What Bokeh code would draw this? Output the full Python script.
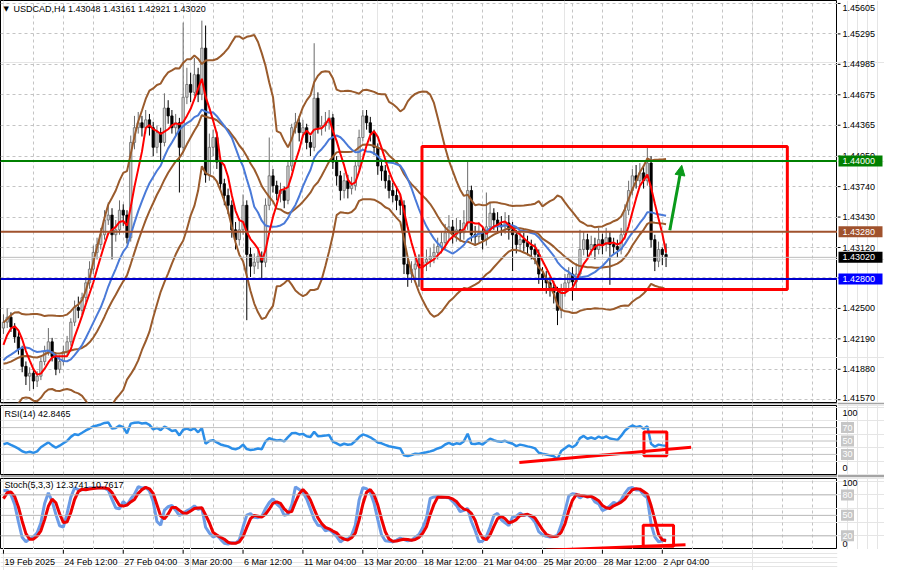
import numpy as np
import pandas as pd
from bokeh.plotting import figure
from bokeh.layouts import column, row
from bokeh.models import (Range1d, FixedTicker, Label, Grid, Arrow, NormalHead, Span)
from bokeh.embed import file_html
from bokeh.resources import INLINE
from bokeh.core.properties import value

# ---------------- data (USDCAD H4) ----------------
title_text = "USDCAD,H4 1.43048 1.43161 1.42921 1.43020"
rsi_title = "RSI(14) 42.8465"
stoch_title = "Stoch(5,3,3) 12.3741 10.7617"

# bars before the first visible bar (warm-up for indicators)
prior_close = [1.4240, 1.4225, 1.4205, 1.4180, 1.4170, 1.4160, 1.4175, 1.4190, 1.4200, 1.4185,
               1.4170, 1.4165, 1.4180, 1.4195, 1.4210, 1.4200, 1.4190, 1.4198, 1.4210, 1.4230]
prior_high = [1.4248, 1.4244, 1.4230, 1.4210, 1.4186, 1.4176, 1.4182, 1.4196, 1.4207, 1.4204,
              1.4190, 1.4176, 1.4186, 1.4201, 1.4216, 1.4214, 1.4205, 1.4204, 1.4216, 1.4236]
prior_low = [1.4230, 1.4220, 1.4200, 1.4174, 1.4163, 1.4154, 1.4156, 1.4170, 1.4184, 1.4180,
             1.4165, 1.4160, 1.4160, 1.4175, 1.4190, 1.4194, 1.4184, 1.4186, 1.4192, 1.4205]

close = [1.4236, 1.4241, 1.4231, 1.4221, 1.4209, 1.4191, 1.4181, 1.4184, 1.4176, 1.4181,
         1.4196, 1.4206, 1.4216, 1.4201, 1.4188, 1.4196, 1.4206, 1.4216, 1.4236, 1.4251,
         1.4248, 1.4261, 1.4276, 1.4290, 1.4307, 1.4315, 1.4325, 1.4340, 1.4345, 1.4325,
         1.4330, 1.4350, 1.4345, 1.4322, 1.4419, 1.4434, 1.4439, 1.4434, 1.4442, 1.4434,
         1.4414, 1.4429, 1.4419, 1.4454, 1.4446, 1.4434, 1.4439, 1.4414, 1.4465, 1.4478,
         1.4470, 1.4488, 1.4468, 1.4515, 1.4386, 1.4414, 1.4424, 1.4399, 1.4377, 1.4365,
         1.4355, 1.4330, 1.4320, 1.4330, 1.4355, 1.4305, 1.4293, 1.4297, 1.4303, 1.4297,
         1.4355, 1.4385, 1.4375, 1.4367, 1.4370, 1.4360, 1.4395, 1.4434, 1.4439, 1.4429,
         1.4434, 1.4419, 1.4414, 1.4464, 1.4434, 1.4436, 1.4439, 1.4444, 1.4399, 1.4385,
         1.4370, 1.4380, 1.4372, 1.4375, 1.4395, 1.4424, 1.4446, 1.4439, 1.4429, 1.4414,
         1.4395, 1.4390, 1.4380, 1.4370, 1.4365, 1.4360, 1.4355, 1.4295, 1.4285, 1.4290,
         1.4295, 1.4293, 1.4297, 1.4300, 1.4303, 1.4307, 1.4313, 1.4317, 1.4327, 1.4333,
         1.4325, 1.4330, 1.4327, 1.4337, 1.4370, 1.4325, 1.4323, 1.4327, 1.4320, 1.4333,
         1.4347, 1.4340, 1.4335, 1.4333, 1.4337, 1.4330, 1.4325, 1.4315, 1.4320, 1.4317,
         1.4313, 1.4310, 1.4305, 1.4285, 1.4280, 1.4276, 1.4271, 1.4266, 1.4248, 1.4268,
         1.4276, 1.4285, 1.4277, 1.4285, 1.4310, 1.4320, 1.4310, 1.4315, 1.4310, 1.4320,
         1.4315, 1.4322, 1.4315, 1.4313, 1.4310, 1.4325, 1.4350, 1.4370, 1.4385, 1.4380,
         1.4388, 1.4380, 1.4398, 1.4320, 1.4298, 1.4310, 1.43048, 1.43020]

high = [1.4244, 1.4250, 1.4246, 1.4235, 1.4226, 1.4212, 1.4196, 1.4190, 1.4189, 1.4186,
        1.4200, 1.4212, 1.4230, 1.4220, 1.4205, 1.4202, 1.4212, 1.4222, 1.4240, 1.4258,
        1.4262, 1.4266, 1.4282, 1.4298, 1.4314, 1.4322, 1.4332, 1.4350, 1.4358, 1.4352,
        1.4340, 1.4360, 1.4356, 1.4350, 1.4426, 1.4446, 1.4450, 1.4446, 1.4452, 1.4448,
        1.4440, 1.4436, 1.4434, 1.4469, 1.4462, 1.4452, 1.4448, 1.4444, 1.4541, 1.4495,
        1.4490, 1.4505, 1.4495, 1.4543, 1.4538, 1.4428, 1.4432, 1.4430, 1.4404, 1.4382,
        1.4372, 1.4360, 1.4338, 1.4342, 1.4366, 1.4360, 1.4312, 1.4306, 1.4312, 1.4308,
        1.4362, 1.4424, 1.4392, 1.4380, 1.4378, 1.4374, 1.4400, 1.4438, 1.4449, 1.4446,
        1.4442, 1.4438, 1.4426, 1.4520, 1.4470, 1.4446, 1.4450, 1.4452, 1.4448, 1.4405,
        1.4390, 1.4388, 1.4386, 1.4384, 1.4400, 1.4432, 1.4452, 1.4452, 1.4445, 1.4432,
        1.4418, 1.4402, 1.4396, 1.4386, 1.4378, 1.4372, 1.4366, 1.4360, 1.4300, 1.4298,
        1.4304, 1.4305, 1.4306, 1.4310, 1.4312, 1.4316, 1.4322, 1.4328, 1.4336, 1.4345,
        1.4340, 1.4342, 1.4340, 1.4350, 1.4400, 1.4375, 1.4334, 1.4338, 1.4334, 1.4368,
        1.4358, 1.4352, 1.4348, 1.4344, 1.4348, 1.4345, 1.4338, 1.4330, 1.4328, 1.4327,
        1.4324, 1.4320, 1.4316, 1.4310, 1.4292, 1.4288, 1.4282, 1.4278, 1.4272, 1.4275,
        1.4285, 1.4292, 1.4292, 1.4296, 1.4330, 1.4328, 1.4326, 1.4324, 1.4322, 1.4332,
        1.4326, 1.4332, 1.4328, 1.4322, 1.4320, 1.4332, 1.4356, 1.4380, 1.4392, 1.4396,
        1.4398, 1.4396, 1.4414, 1.4405, 1.4325, 1.4318, 1.4312, 1.43161]

low = [1.4224, 1.4230, 1.4226, 1.4215, 1.4203, 1.4185, 1.4172, 1.4166, 1.4168, 1.4170,
       1.4177, 1.4192, 1.4202, 1.4196, 1.4182, 1.4184, 1.4192, 1.4202, 1.4212, 1.4232,
       1.4240, 1.4243, 1.4256, 1.4270, 1.4285, 1.4300, 1.4310, 1.4320, 1.4335, 1.4300,
       1.4318, 1.4325, 1.4334, 1.4316, 1.4318, 1.4412, 1.4428, 1.4425, 1.4428, 1.4426,
       1.4405, 1.4408, 1.4400, 1.4415, 1.4438, 1.4428, 1.4425, 1.4368, 1.4408, 1.4458,
       1.4460, 1.4466, 1.4460, 1.4462, 1.4378, 1.4380, 1.4405, 1.4392, 1.4370, 1.4355,
       1.4346, 1.4322, 1.4310, 1.4314, 1.4325, 1.4238, 1.4282, 1.4285, 1.4290, 1.4280,
       1.4292, 1.4350, 1.4368, 1.4360, 1.4358, 1.4352, 1.4356, 1.4390, 1.4428, 1.4420,
       1.4424, 1.4412, 1.4405, 1.4410, 1.4428, 1.4426, 1.4430, 1.4432, 1.4392, 1.4375,
       1.4360, 1.4362, 1.4362, 1.4366, 1.4370, 1.4390, 1.4420, 1.4432, 1.4420, 1.4406,
       1.4386, 1.4380, 1.4372, 1.4362, 1.4358, 1.4350, 1.4345, 1.4285, 1.4272, 1.4276,
       1.4280, 1.4272, 1.4285, 1.4288, 1.4292, 1.4296, 1.4300, 1.4306, 1.4310, 1.4320,
       1.4316, 1.4318, 1.4318, 1.4320, 1.4330, 1.4318, 1.4314, 1.4316, 1.4310, 1.4314,
       1.4328, 1.4330, 1.4326, 1.4324, 1.4326, 1.4320, 1.4288, 1.4306, 1.4308, 1.4308,
       1.4304, 1.4300, 1.4295, 1.4275, 1.4270, 1.4265, 1.4262, 1.4255, 1.4233, 1.4240,
       1.4262, 1.4270, 1.4258, 1.4270, 1.4280, 1.4304, 1.4300, 1.4304, 1.4300, 1.4305,
       1.4305, 1.4308, 1.4274, 1.4305, 1.4302, 1.4305, 1.4320, 1.4345, 1.4365, 1.4372,
       1.4374, 1.4372, 1.4375, 1.4312, 1.4288, 1.4292, 1.4294, 1.42921]

# axis tick values / labels
price_ticks = [1.45605, 1.45295, 1.44985, 1.44675, 1.44365, 1.44050, 1.43740, 1.43430,
               1.43120, 1.42810, 1.42500, 1.42190, 1.41880, 1.41570]
date_labels = ["19 Feb 2025", "24 Feb 12:00", "27 Feb 04:00", "3 Mar 20:00", "6 Mar 12:00",
               "11 Mar 04:00", "13 Mar 20:00", "18 Mar 12:00", "21 Mar 04:00", "25 Mar 20:00",
               "28 Mar 12:00", "2 Apr 04:00"]
date_label_bars = [0, 16, 32, 48, 64, 80, 96, 112, 128, 144, 160, 176]
grid_bars = list(range(8, 224, 8))
rsi_levels = [70, 50, 30]
stoch_levels = [80, 50, 20]

# horizontal levels drawn on the chart: (price, colour)
levels = [(1.44000, "#008000"), (1.43280, "#a0522d"), (1.42800, "#0000cc")]
level_tags = [(1.44000, "#008000"), (1.43280, "#a0522d"), (1.43020, "#000000"), (1.42800, "#0000ff")]
last_price = 1.43020

# user drawings (bar index, value)
box_main = dict(left=111.8, right=209.4, bottom=1.42692, top=1.44148)
arrow_main = dict(x0=178.0, y0=1.43296, x1=181.2, y1=1.43957)
rsi_line = dict(x=[137.8, 183.7], y=[17.9, 40.7])
rsi_box = dict(left=171.1, right=177.2, bottom=27.9, top=63.6)
stoch_line = dict(x=[144.9, 182.2], y=[-1.0, 7.1])
stoch_box = dict(left=170.9, right=179.0, bottom=4.7, top=35.7)

# ---------------- indicators ----------------
P = len(prior_close)
c_all = pd.Series(prior_close + close)
h_all = pd.Series(prior_high + high)
l_all = pd.Series(prior_low + low)
opens = np.array([prior_close[-1]] + close[:-1])

mid = c_all.rolling(20).mean()
sd = c_all.rolling(20).std(ddof=0)
bb_up = (mid + 2 * sd).values[P:]
bb_dn = (mid - 2 * sd).values[P:]
bb_mid = mid.values[P:]
ma_fast = c_all.rolling(5).mean().values[P:]
ma_slow = c_all.rolling(14).mean().values[P:]

d = c_all.diff()
ag = d.clip(lower=0).ewm(alpha=1 / 14, adjust=False).mean()
al = (-d.clip(upper=0)).ewm(alpha=1 / 14, adjust=False).mean()
rsi = (100 - 100 / (1 + ag / al)).values[P:]

hh = h_all.rolling(5).max()
ll = l_all.rolling(5).min()
k_line = ((c_all - ll).rolling(3).sum() / (hh - ll).rolling(3).sum() * 100)
d_line = k_line.rolling(3).mean()
k_line = k_line.values[P:]
d_line = d_line.values[P:]

# ---------------- layout ----------------
FW = 837          # plot-area width
SW = 47           # price-scale width
FONT = "Liberation Sans"
FS = "9px"
BROWN = "#9a5b2c"
SEP = "#a4a4a4"
xr = Range1d(-0.79, 222.8)
idx = np.arange(len(close))
c = np.array(close); o = opens; h = np.array(high); l = np.array(low)


def panel(hgt, yr, top=0, bottom=0):
    p = figure(width=FW, height=hgt, x_range=xr, y_range=yr, output_backend="svg",
               toolbar_location=None, x_axis_location=None, y_axis_location=None,
               min_border_left=0, min_border_right=0, min_border_top=top,
               min_border_bottom=bottom)
    p.outline_line_color = "black"
    p.outline_line_width = 1
    p.background_fill_color = "white"
    p.border_fill_color = SEP
    p.add_layout(Grid(dimension=0, ticker=FixedTicker(ticks=grid_bars),
                      grid_line_color="#c4c4c4", grid_line_dash="3 3"))
    return p


def scale(hgt, yr, top=0, bottom=0):
    s = figure(width=SW, height=hgt, x_range=Range1d(0, SW), y_range=yr, output_backend="svg",
               toolbar_location=None, x_axis_location=None, y_axis_location=None,
               min_border_left=0, min_border_right=0, min_border_top=top,
               min_border_bottom=bottom)
    s.outline_line_color = None
    s.background_fill_color = "white"
    s.border_fill_color = SEP
    return s


def txt(fig, xs, ys, texts, color="black", y_offset=0):
    fig.text(x=xs, y=ys, text=texts, text_font=value(FONT), text_font_size=FS,
             text_baseline="middle", text_align="left", text_color=color, y_offset=y_offset)


# ---- main panel ----
yr_main = Range1d(1.41542, 1.45635)
pm = panel(404, yr_main, top=0, bottom=2)
pm.add_layout(Grid(dimension=1, ticker=FixedTicker(ticks=price_ticks),
                   grid_line_color="#c4c4c4", grid_line_dash="3 3"))
pm.add_layout(Span(location=last_price, dimension="width", line_color="#bcbcbc", line_width=1))

inc = c >= o
dec = ~inc
pm.segment(x0=idx[inc], y0=l[inc], x1=idx[inc], y1=h[inc], line_color="#6a6a6a", line_width=1)
pm.segment(x0=idx[dec], y0=l[dec], x1=idx[dec], y1=h[dec], line_color="black", line_width=1)
pm.vbar(x=idx[inc], width=0.62, top=c[inc], bottom=o[inc], fill_color="#d4d4d4",
        line_color="#6a6a6a", line_width=0.8)
pm.vbar(x=idx[dec], width=0.62, top=o[dec], bottom=c[dec], fill_color="black",
        line_color="black", line_width=0.8)

pm.line(idx, bb_up, line_color=BROWN, line_width=2)
pm.line(idx, bb_dn, line_color=BROWN, line_width=2)
pm.line(idx, bb_mid, line_color=BROWN, line_width=2)
pm.line(idx, ma_slow, line_color="#4a7ad8", line_width=2)
pm.line(idx, ma_fast, line_color="#ff0000", line_width=2)

for lv, col in levels:
    pm.add_layout(Span(location=lv, dimension="width", line_color=col, line_width=2))

pm.quad(left=[box_main["left"]], right=[box_main["right"]], bottom=[box_main["bottom"]],
        top=[box_main["top"]], fill_color=None, line_color="#ff0000", line_width=3)
pm.add_layout(Arrow(end=NormalHead(size=10, fill_color="#0a9a1a", line_color="#0a9a1a"),
                    x_start=arrow_main["x0"], y_start=arrow_main["y0"],
                    x_end=arrow_main["x1"], y_end=arrow_main["y1"],
                    line_color="#0a9a1a", line_width=3))

pm.add_layout(Label(x=3, y=394, x_units="screen", y_units="screen", text="\u25bc",
                    text_font="DejaVu Sans", text_font_size="7px", text_baseline="middle",
                    text_color="black"))
pm.add_layout(Label(x=13, y=394, x_units="screen", y_units="screen", text=title_text,
                    text_font=FONT, text_font_size=FS, text_baseline="middle", text_color="black"))

# price scale of main panel
sm = scale(404, yr_main, top=0, bottom=2)
sm.segment(x0=[0] * len(price_ticks), y0=price_ticks, x1=[3] * len(price_ticks), y1=price_ticks,
           line_color="black")
tick_offsets = [5] + [0] * (len(price_ticks) - 2) + [-2]
txt(sm, [5] * len(price_ticks), price_ticks, ["%.5f" % t for t in price_ticks],
    y_offset=tick_offsets)
sm.rect(x=[23] * len(level_tags), y=[t[0] for t in level_tags], width=44, height=11,
        height_units="screen", fill_color=[t[1] for t in level_tags], line_color=None)
txt(sm, [5] * len(level_tags), [t[0] for t in level_tags], ["%.5f" % t[0] for t in level_tags],
    color="white")

# ---- RSI panel ----
yr_rsi = Range1d(0, 103)
pr = panel(73, yr_rsi, top=1, bottom=3)
for lv in rsi_levels:
    pr.add_layout(Span(location=lv, dimension="width", line_color="#c0c0c0", line_width=1))
pr.line(idx, rsi, line_color="#2b8ee8", line_width=2.5)
pr.line(rsi_line["x"], rsi_line["y"], line_color="#ff0000", line_width=3)
pr.quad(left=[rsi_box["left"]], right=[rsi_box["right"]], bottom=[rsi_box["bottom"]],
        top=[rsi_box["top"]], fill_color=None, line_color="#ff0000", line_width=3)
pr.add_layout(Label(x=4, y=91, x_units="screen", text=rsi_title, text_font=FONT,
                    text_font_size=FS, text_baseline="middle", text_color="black"))

sr = scale(73, yr_rsi, top=1, bottom=3)
txt(sr, [5, 5], [92, 9], ["100", "0"])
sr.rect(x=[10] * 3, y=rsi_levels, width=13, height=11, height_units="screen",
        fill_color="#c6c6c6", line_color=None)
txt(sr, [5] * 3, rsi_levels, [str(v) for v in rsi_levels], color="white")

# ---- Stochastic panel ----
yr_st = Range1d(0, 104)
ps = panel(72, yr_st, top=1, bottom=0)
for lv in stoch_levels:
    ps.add_layout(Span(location=lv, dimension="width", line_color="#b8b8b8", line_width=1))
ps.line(idx, k_line, line_color="#6c9ce6", line_width=3)
ps.line(idx, d_line, line_color="#ee0000", line_width=3)
ps.line(stoch_line["x"], stoch_line["y"], line_color="#ff0000", line_width=3)
ps.quad(left=[stoch_box["left"]], right=[stoch_box["right"]], bottom=[stoch_box["bottom"]],
        top=[stoch_box["top"]], fill_color=None, line_color="#ff0000", line_width=3)
ps.add_layout(Label(x=4, y=95, x_units="screen", text=stoch_title, text_font=FONT,
                    text_font_size=FS, text_baseline="middle", text_color="black"))

ss = scale(72, yr_st, top=1, bottom=0)
txt(ss, [5, 5], [97, 8], ["100", "0"])
ss.rect(x=[10] * 3, y=stoch_levels, width=13, height=11, height_units="screen",
        fill_color="#c6c6c6", line_color=None)
txt(ss, [5] * 3, stoch_levels, [str(v) for v in stoch_levels], color="white")

# ---- date labels ----
px = figure(width=FW + SW, height=21, x_range=xr, y_range=Range1d(0, 1), output_backend="svg",
            toolbar_location=None, x_axis_location=None, y_axis_location=None,
            min_border_left=0, min_border_right=SW, min_border_top=0, min_border_bottom=0)
px.outline_line_color = None
px.background_fill_color = "white"
px.border_fill_color = "white"
px.segment(x0=date_label_bars, y0=[1] * len(date_label_bars), x1=date_label_bars,
           y1=[0.8] * len(date_label_bars), line_color="black", line_width=1)
px.text(x=date_label_bars, y=[0.42] * len(date_label_bars), text=date_labels,
        text_font=value(FONT), text_font_size=FS, text_baseline="middle", text_align="left",
        x_offset=1, text_color="black")

layout = column(row(pm, sm, spacing=0), row(pr, sr, spacing=0), row(ps, ss, spacing=0), px,
                spacing=0)
open("out.html", "w").write(file_html(layout, INLINE))
